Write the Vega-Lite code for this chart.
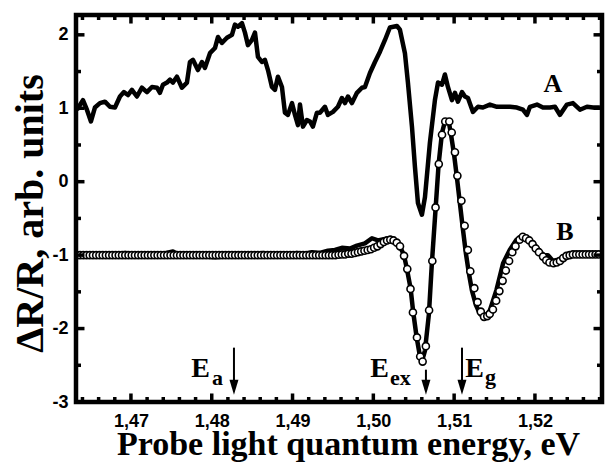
{
  "$schema": "https://vega.github.io/schema/vega-lite/v6.json",
  "width": 526,
  "height": 387,
  "autosize": {"type": "none"},
  "padding": {"left": 76, "top": 15, "right": 4, "bottom": 61},
  "background": "white",
  "config": {
    "view": {"stroke": null},
    "axis": {
      "grid": false,
      "domain": false,
      "ticks": false,
      "labelFont": "Liberation Sans",
      "labelFontWeight": "bold",
      "labelFontSize": 18,
      "labelColor": "black",
      "labelOverlap": false,
      "labelFlush": false,
      "titleFont": "Liberation Serif",
      "titleFontWeight": "bold",
      "titleColor": "black"
    }
  },
  "datasets": {
    "lineA": [
      {"E": 1.46332, "y": 0.98}, {"E": 1.46406, "y": 1.11}, {"E": 1.46455, "y": 0.98}, {"E": 1.46505, "y": 0.82},
      {"E": 1.46554, "y": 1.01}, {"E": 1.46616, "y": 1.07}, {"E": 1.46678, "y": 1.09}, {"E": 1.4674, "y": 1.02},
      {"E": 1.46802, "y": 1.01}, {"E": 1.46864, "y": 1.16}, {"E": 1.46913, "y": 1.22}, {"E": 1.46963, "y": 1.18},
      {"E": 1.47012, "y": 1.25}, {"E": 1.47074, "y": 1.16}, {"E": 1.47136, "y": 1.28}, {"E": 1.47198, "y": 1.22},
      {"E": 1.4726, "y": 1.29}, {"E": 1.47322, "y": 1.28}, {"E": 1.47359, "y": 1.21}, {"E": 1.47396, "y": 1.32},
      {"E": 1.47446, "y": 1.35}, {"E": 1.47483, "y": 1.39}, {"E": 1.4752, "y": 1.35}, {"E": 1.47569, "y": 1.43},
      {"E": 1.47631, "y": 1.28}, {"E": 1.47693, "y": 1.35}, {"E": 1.4773, "y": 1.63}, {"E": 1.47767, "y": 1.66},
      {"E": 1.47829, "y": 1.52}, {"E": 1.47879, "y": 1.63}, {"E": 1.47916, "y": 1.55}, {"E": 1.47978, "y": 1.75},
      {"E": 1.4804, "y": 1.82}, {"E": 1.48077, "y": 1.97}, {"E": 1.48126, "y": 1.89}, {"E": 1.48188, "y": 1.96},
      {"E": 1.4825, "y": 2.0}, {"E": 1.48287, "y": 2.14}, {"E": 1.48324, "y": 2.11}, {"E": 1.48374, "y": 2.16},
      {"E": 1.48411, "y": 2.03}, {"E": 1.48448, "y": 1.86}, {"E": 1.48498, "y": 1.93}, {"E": 1.48535, "y": 2.03},
      {"E": 1.48572, "y": 1.7}, {"E": 1.48621, "y": 1.63}, {"E": 1.48658, "y": 1.66}, {"E": 1.48696, "y": 1.52},
      {"E": 1.48745, "y": 1.29}, {"E": 1.48782, "y": 1.25}, {"E": 1.48819, "y": 1.43}, {"E": 1.48869, "y": 1.29},
      {"E": 1.48906, "y": 0.94}, {"E": 1.48943, "y": 0.91}, {"E": 1.48993, "y": 1.07}, {"E": 1.4903, "y": 0.91},
      {"E": 1.49067, "y": 0.77}, {"E": 1.49092, "y": 1.05}, {"E": 1.49129, "y": 0.75}, {"E": 1.49178, "y": 0.84},
      {"E": 1.49215, "y": 0.82}, {"E": 1.49252, "y": 0.75}, {"E": 1.49302, "y": 0.94}, {"E": 1.49339, "y": 0.94},
      {"E": 1.49401, "y": 1.02}, {"E": 1.49438, "y": 0.91}, {"E": 1.495, "y": 0.95}, {"E": 1.49562, "y": 1.02},
      {"E": 1.49611, "y": 1.14}, {"E": 1.49649, "y": 1.07}, {"E": 1.49686, "y": 1.16}, {"E": 1.49735, "y": 1.07},
      {"E": 1.49797, "y": 1.21}, {"E": 1.49859, "y": 1.28}, {"E": 1.49896, "y": 1.29}, {"E": 1.49958, "y": 1.48},
      {"E": 1.5002, "y": 1.63}, {"E": 1.50082, "y": 1.77}, {"E": 1.50144, "y": 1.93}, {"E": 1.50205, "y": 2.1},
      {"E": 1.50292, "y": 2.12}, {"E": 1.50329, "y": 2.07}, {"E": 1.50391, "y": 1.75}, {"E": 1.50428, "y": 1.35},
      {"E": 1.50478, "y": 0.75}, {"E": 1.50515, "y": 0.2}, {"E": 1.50552, "y": -0.29}, {"E": 1.50601, "y": -0.45},
      {"E": 1.50639, "y": -0.21}, {"E": 1.507, "y": 0.53}, {"E": 1.50762, "y": 1.11}, {"E": 1.508, "y": 1.35},
      {"E": 1.50849, "y": 1.32}, {"E": 1.50886, "y": 1.46}, {"E": 1.50923, "y": 1.29}, {"E": 1.50973, "y": 1.11},
      {"E": 1.5101, "y": 1.21}, {"E": 1.51047, "y": 1.09}, {"E": 1.51097, "y": 1.22}, {"E": 1.51134, "y": 1.16},
      {"E": 1.51171, "y": 1.14}, {"E": 1.51233, "y": 0.95}, {"E": 1.51295, "y": 1.02}, {"E": 1.51356, "y": 1.01},
      {"E": 1.51443, "y": 1.05}, {"E": 1.5153, "y": 1.02}, {"E": 1.51604, "y": 1.02}, {"E": 1.51691, "y": 1.02},
      {"E": 1.51777, "y": 1.01}, {"E": 1.51851, "y": 0.98}, {"E": 1.51901, "y": 0.91}, {"E": 1.51938, "y": 1.02},
      {"E": 1.52025, "y": 1.05}, {"E": 1.52099, "y": 1.01}, {"E": 1.52186, "y": 1.01}, {"E": 1.52248, "y": 1.02},
      {"E": 1.52309, "y": 0.91}, {"E": 1.52396, "y": 1.05}, {"E": 1.5247, "y": 1.07}, {"E": 1.52557, "y": 0.98},
      {"E": 1.52644, "y": 1.02}, {"E": 1.52718, "y": 1.01}, {"E": 1.52804, "y": 1.01}
    ],
    "lineB": [
      {"E": 1.46332, "y": -1.0}, {"E": 1.46493, "y": -1.0}, {"E": 1.46616, "y": -0.99}, {"E": 1.4674, "y": -1.0},
      {"E": 1.46827, "y": -0.98}, {"E": 1.46926, "y": -0.97}, {"E": 1.4705, "y": -0.98}, {"E": 1.47173, "y": -1.0},
      {"E": 1.47359, "y": -0.99}, {"E": 1.4752, "y": -0.95}, {"E": 1.47606, "y": -1.0}, {"E": 1.47792, "y": -1.0},
      {"E": 1.47916, "y": -1.02}, {"E": 1.4804, "y": -1.03}, {"E": 1.48163, "y": -1.02}, {"E": 1.48349, "y": -1.0},
      {"E": 1.48535, "y": -1.0}, {"E": 1.48634, "y": -0.97}, {"E": 1.4872, "y": -1.0}, {"E": 1.48906, "y": -1.0},
      {"E": 1.49054, "y": -0.97}, {"E": 1.49153, "y": -0.98}, {"E": 1.4924, "y": -0.96}, {"E": 1.49339, "y": -0.97},
      {"E": 1.49438, "y": -0.94}, {"E": 1.49525, "y": -0.93}, {"E": 1.49611, "y": -0.9}, {"E": 1.4971, "y": -0.91},
      {"E": 1.49797, "y": -0.87}, {"E": 1.49896, "y": -0.84}, {"E": 1.49983, "y": -0.77}, {"E": 1.50057, "y": -0.8},
      {"E": 1.50144, "y": -0.78}, {"E": 1.5023, "y": -0.78}, {"E": 1.50292, "y": -0.82}, {"E": 1.50329, "y": -0.88},
      {"E": 1.50379, "y": -1.0}, {"E": 1.50416, "y": -1.19}, {"E": 1.50462, "y": -1.46}, {"E": 1.50494, "y": -1.78},
      {"E": 1.50536, "y": -2.12}, {"E": 1.50577, "y": -2.38}, {"E": 1.50601, "y": -2.45}, {"E": 1.50639, "y": -2.3},
      {"E": 1.50688, "y": -1.8}, {"E": 1.50725, "y": -1.1}, {"E": 1.50771, "y": -0.36}, {"E": 1.50808, "y": 0.24},
      {"E": 1.50849, "y": 0.66}, {"E": 1.50886, "y": 0.82}, {"E": 1.50936, "y": 0.8}, {"E": 1.5096, "y": 0.65},
      {"E": 1.50998, "y": 0.38}, {"E": 1.51035, "y": 0.05}, {"E": 1.51072, "y": -0.3}, {"E": 1.51109, "y": -0.65},
      {"E": 1.51146, "y": -0.98}, {"E": 1.51183, "y": -1.25}, {"E": 1.5122, "y": -1.48}, {"E": 1.5127, "y": -1.68},
      {"E": 1.51319, "y": -1.8}, {"E": 1.51369, "y": -1.85}, {"E": 1.51418, "y": -1.8}, {"E": 1.51443, "y": -1.75},
      {"E": 1.51525, "y": -1.47}, {"E": 1.51606, "y": -1.11}, {"E": 1.51688, "y": -0.93}, {"E": 1.51771, "y": -0.79},
      {"E": 1.51833, "y": -0.74}, {"E": 1.51889, "y": -0.77}, {"E": 1.51938, "y": -0.81}, {"E": 1.52012, "y": -0.88},
      {"E": 1.52062, "y": -0.95}, {"E": 1.52111, "y": -1.0}, {"E": 1.52161, "y": -1.0}, {"E": 1.52223, "y": -1.08},
      {"E": 1.52285, "y": -1.06}, {"E": 1.52371, "y": -1.02}, {"E": 1.52433, "y": -0.99}, {"E": 1.52557, "y": -0.98},
      {"E": 1.52681, "y": -0.99}, {"E": 1.52829, "y": -0.99}
    ],
    "fit": [
      {"E": 1.4633, "y": -1.0}, {"E": 1.4637, "y": -1.0}, {"E": 1.4641, "y": -1.0}, {"E": 1.4645, "y": -1.0},
      {"E": 1.4649, "y": -1.0}, {"E": 1.4653, "y": -1.0}, {"E": 1.4657, "y": -1.0}, {"E": 1.4661, "y": -1.0},
      {"E": 1.4665, "y": -1.0}, {"E": 1.4669, "y": -1.0}, {"E": 1.4673, "y": -1.0}, {"E": 1.4677, "y": -1.0},
      {"E": 1.4681, "y": -1.0}, {"E": 1.4685, "y": -1.0}, {"E": 1.4689, "y": -1.0}, {"E": 1.4693, "y": -1.0},
      {"E": 1.4697, "y": -1.0}, {"E": 1.4701, "y": -1.0}, {"E": 1.4705, "y": -1.0}, {"E": 1.4709, "y": -1.0},
      {"E": 1.4713, "y": -1.0}, {"E": 1.4717, "y": -1.0}, {"E": 1.4721, "y": -1.0}, {"E": 1.4725, "y": -1.0},
      {"E": 1.4729, "y": -1.0}, {"E": 1.4733, "y": -1.0}, {"E": 1.4737, "y": -1.0}, {"E": 1.4741, "y": -1.0},
      {"E": 1.4745, "y": -1.0}, {"E": 1.4749, "y": -1.0}, {"E": 1.4753, "y": -1.0}, {"E": 1.4757, "y": -1.0},
      {"E": 1.4761, "y": -1.0}, {"E": 1.4765, "y": -1.0}, {"E": 1.4769, "y": -1.0}, {"E": 1.4773, "y": -1.0},
      {"E": 1.4777, "y": -1.0}, {"E": 1.4781, "y": -1.0}, {"E": 1.4785, "y": -1.0}, {"E": 1.4789, "y": -1.0},
      {"E": 1.4793, "y": -1.0}, {"E": 1.4797, "y": -1.0}, {"E": 1.4801, "y": -1.0}, {"E": 1.4805, "y": -1.0},
      {"E": 1.4809, "y": -1.0}, {"E": 1.4813, "y": -1.0}, {"E": 1.4817, "y": -1.0}, {"E": 1.4821, "y": -1.0},
      {"E": 1.4825, "y": -1.0}, {"E": 1.4829, "y": -1.0}, {"E": 1.4833, "y": -1.0}, {"E": 1.4837, "y": -1.0},
      {"E": 1.4841, "y": -1.0}, {"E": 1.4845, "y": -1.0}, {"E": 1.4849, "y": -1.0}, {"E": 1.4853, "y": -1.0},
      {"E": 1.4857, "y": -1.0}, {"E": 1.4861, "y": -1.0}, {"E": 1.4865, "y": -1.0}, {"E": 1.4869, "y": -1.0},
      {"E": 1.4873, "y": -1.0}, {"E": 1.4877, "y": -1.0}, {"E": 1.4881, "y": -1.0}, {"E": 1.4885, "y": -1.0},
      {"E": 1.4889, "y": -1.0}, {"E": 1.4893, "y": -1.0}, {"E": 1.4897, "y": -1.0}, {"E": 1.4901, "y": -1.0},
      {"E": 1.4905, "y": -1.0}, {"E": 1.4909, "y": -1.0}, {"E": 1.4913, "y": -1.0}, {"E": 1.4917, "y": -1.0},
      {"E": 1.4921, "y": -1.0}, {"E": 1.4925, "y": -1.0}, {"E": 1.4929, "y": -1.0}, {"E": 1.4933, "y": -1.0},
      {"E": 1.4937, "y": -1.0}, {"E": 1.4941, "y": -1.0}, {"E": 1.4945, "y": -1.0}, {"E": 1.4949, "y": -1.0},
      {"E": 1.4953, "y": -1.0}, {"E": 1.4957, "y": -0.995}, {"E": 1.4961, "y": -0.99}, {"E": 1.4965, "y": -0.99},
      {"E": 1.4969, "y": -0.98}, {"E": 1.4973, "y": -0.98}, {"E": 1.4977, "y": -0.97}, {"E": 1.4981, "y": -0.96},
      {"E": 1.4985, "y": -0.95}, {"E": 1.4989, "y": -0.94}, {"E": 1.4993, "y": -0.93}, {"E": 1.4997, "y": -0.92},
      {"E": 1.5001, "y": -0.9}, {"E": 1.5005, "y": -0.88}, {"E": 1.5009, "y": -0.85}, {"E": 1.5013, "y": -0.82},
      {"E": 1.5017, "y": -0.8}, {"E": 1.5021, "y": -0.79}, {"E": 1.5025, "y": -0.8}, {"E": 1.5029, "y": -0.83},
      {"E": 1.5033, "y": -0.88}, {"E": 1.5038, "y": -1.01}, {"E": 1.5042, "y": -1.19}, {"E": 1.5046, "y": -1.46},
      {"E": 1.5049, "y": -1.78}, {"E": 1.5054, "y": -2.12}, {"E": 1.5058, "y": -2.38}, {"E": 1.5061, "y": -2.45},
      {"E": 1.5065, "y": -2.24}, {"E": 1.5069, "y": -1.75}, {"E": 1.5073, "y": -1.08}, {"E": 1.5077, "y": -0.35},
      {"E": 1.5081, "y": 0.24}, {"E": 1.5085, "y": 0.64}, {"E": 1.5089, "y": 0.82}, {"E": 1.5094, "y": 0.82},
      {"E": 1.5097, "y": 0.67}, {"E": 1.5101, "y": 0.4}, {"E": 1.5104, "y": 0.08}, {"E": 1.5109, "y": -0.26},
      {"E": 1.5113, "y": -0.6}, {"E": 1.5117, "y": -0.93}, {"E": 1.512, "y": -1.22}, {"E": 1.5125, "y": -1.45},
      {"E": 1.5129, "y": -1.64}, {"E": 1.5133, "y": -1.77}, {"E": 1.5137, "y": -1.84}, {"E": 1.5141, "y": -1.83},
      {"E": 1.5144, "y": -1.8}, {"E": 1.5148, "y": -1.74}, {"E": 1.5152, "y": -1.62}, {"E": 1.5156, "y": -1.49},
      {"E": 1.516, "y": -1.35}, {"E": 1.5164, "y": -1.21}, {"E": 1.5168, "y": -1.08}, {"E": 1.5172, "y": -0.96},
      {"E": 1.5176, "y": -0.88}, {"E": 1.5181, "y": -0.79}, {"E": 1.5185, "y": -0.75}, {"E": 1.5189, "y": -0.77},
      {"E": 1.5193, "y": -0.8}, {"E": 1.5197, "y": -0.85}, {"E": 1.5201, "y": -0.91}, {"E": 1.5205, "y": -0.96},
      {"E": 1.521, "y": -1.02}, {"E": 1.5214, "y": -1.07}, {"E": 1.5218, "y": -1.1}, {"E": 1.5223, "y": -1.11},
      {"E": 1.5227, "y": -1.1}, {"E": 1.5231, "y": -1.08}, {"E": 1.5235, "y": -1.04}, {"E": 1.5239, "y": -1.01},
      {"E": 1.5243, "y": -1.0}, {"E": 1.5247, "y": -0.99}, {"E": 1.5251, "y": -0.99}, {"E": 1.5255, "y": -0.99},
      {"E": 1.5259, "y": -0.99}, {"E": 1.5263, "y": -0.99}, {"E": 1.5267, "y": -0.99}, {"E": 1.5271, "y": -0.99},
      {"E": 1.5275, "y": -0.99}, {"E": 1.5279, "y": -0.99}
    ],
    "frame": [
      {"k": 0, "E": 1.4632, "y": -3}, {"k": 1, "E": 1.5283, "y": -3}, {"k": 2, "E": 1.5283, "y": 2.27},
      {"k": 3, "E": 1.4632, "y": 2.27}, {"k": 4, "E": 1.4632, "y": -3}
    ],
    "tickPts": [
      {"id": "b01", "E": 1.464, "y": -3}, {"id": "b01", "E": 1.464, "y": -2.932},
      {"id": "b02", "E": 1.466, "y": -3}, {"id": "b02", "E": 1.466, "y": -2.932},
      {"id": "b03", "E": 1.468, "y": -3}, {"id": "b03", "E": 1.468, "y": -2.932},
      {"id": "b04", "E": 1.47, "y": -3}, {"id": "b04", "E": 1.47, "y": -2.884},
      {"id": "b05", "E": 1.472, "y": -3}, {"id": "b05", "E": 1.472, "y": -2.932},
      {"id": "b06", "E": 1.474, "y": -3}, {"id": "b06", "E": 1.474, "y": -2.932},
      {"id": "b07", "E": 1.476, "y": -3}, {"id": "b07", "E": 1.476, "y": -2.932},
      {"id": "b08", "E": 1.478, "y": -3}, {"id": "b08", "E": 1.478, "y": -2.932},
      {"id": "b09", "E": 1.48, "y": -3}, {"id": "b09", "E": 1.48, "y": -2.884},
      {"id": "b10", "E": 1.482, "y": -3}, {"id": "b10", "E": 1.482, "y": -2.932},
      {"id": "b11", "E": 1.484, "y": -3}, {"id": "b11", "E": 1.484, "y": -2.932},
      {"id": "b12", "E": 1.486, "y": -3}, {"id": "b12", "E": 1.486, "y": -2.932},
      {"id": "b13", "E": 1.488, "y": -3}, {"id": "b13", "E": 1.488, "y": -2.932},
      {"id": "b14", "E": 1.49, "y": -3}, {"id": "b14", "E": 1.49, "y": -2.884},
      {"id": "b15", "E": 1.492, "y": -3}, {"id": "b15", "E": 1.492, "y": -2.932},
      {"id": "b16", "E": 1.494, "y": -3}, {"id": "b16", "E": 1.494, "y": -2.932},
      {"id": "b17", "E": 1.496, "y": -3}, {"id": "b17", "E": 1.496, "y": -2.932},
      {"id": "b18", "E": 1.498, "y": -3}, {"id": "b18", "E": 1.498, "y": -2.932},
      {"id": "b19", "E": 1.5, "y": -3}, {"id": "b19", "E": 1.5, "y": -2.884},
      {"id": "b20", "E": 1.502, "y": -3}, {"id": "b20", "E": 1.502, "y": -2.932},
      {"id": "b21", "E": 1.504, "y": -3}, {"id": "b21", "E": 1.504, "y": -2.932},
      {"id": "b22", "E": 1.506, "y": -3}, {"id": "b22", "E": 1.506, "y": -2.932},
      {"id": "b23", "E": 1.508, "y": -3}, {"id": "b23", "E": 1.508, "y": -2.932},
      {"id": "b24", "E": 1.51, "y": -3}, {"id": "b24", "E": 1.51, "y": -2.884},
      {"id": "b25", "E": 1.512, "y": -3}, {"id": "b25", "E": 1.512, "y": -2.932},
      {"id": "b26", "E": 1.514, "y": -3}, {"id": "b26", "E": 1.514, "y": -2.932},
      {"id": "b27", "E": 1.516, "y": -3}, {"id": "b27", "E": 1.516, "y": -2.932},
      {"id": "b28", "E": 1.518, "y": -3}, {"id": "b28", "E": 1.518, "y": -2.932},
      {"id": "b29", "E": 1.52, "y": -3}, {"id": "b29", "E": 1.52, "y": -2.884},
      {"id": "b30", "E": 1.522, "y": -3}, {"id": "b30", "E": 1.522, "y": -2.932},
      {"id": "b31", "E": 1.524, "y": -3}, {"id": "b31", "E": 1.524, "y": -2.932},
      {"id": "b32", "E": 1.526, "y": -3}, {"id": "b32", "E": 1.526, "y": -2.932},
      {"id": "b33", "E": 1.528, "y": -3}, {"id": "b33", "E": 1.528, "y": -2.932},
      {"id": "t01", "E": 1.464, "y": 2.27}, {"id": "t01", "E": 1.464, "y": 2.202},
      {"id": "t02", "E": 1.466, "y": 2.27}, {"id": "t02", "E": 1.466, "y": 2.202},
      {"id": "t03", "E": 1.468, "y": 2.27}, {"id": "t03", "E": 1.468, "y": 2.202},
      {"id": "t04", "E": 1.47, "y": 2.27}, {"id": "t04", "E": 1.47, "y": 2.154},
      {"id": "t05", "E": 1.472, "y": 2.27}, {"id": "t05", "E": 1.472, "y": 2.202},
      {"id": "t06", "E": 1.474, "y": 2.27}, {"id": "t06", "E": 1.474, "y": 2.202},
      {"id": "t07", "E": 1.476, "y": 2.27}, {"id": "t07", "E": 1.476, "y": 2.202},
      {"id": "t08", "E": 1.478, "y": 2.27}, {"id": "t08", "E": 1.478, "y": 2.202},
      {"id": "t09", "E": 1.48, "y": 2.27}, {"id": "t09", "E": 1.48, "y": 2.154},
      {"id": "t10", "E": 1.482, "y": 2.27}, {"id": "t10", "E": 1.482, "y": 2.202},
      {"id": "t11", "E": 1.484, "y": 2.27}, {"id": "t11", "E": 1.484, "y": 2.202},
      {"id": "t12", "E": 1.486, "y": 2.27}, {"id": "t12", "E": 1.486, "y": 2.202},
      {"id": "t13", "E": 1.488, "y": 2.27}, {"id": "t13", "E": 1.488, "y": 2.202},
      {"id": "t14", "E": 1.49, "y": 2.27}, {"id": "t14", "E": 1.49, "y": 2.154},
      {"id": "t15", "E": 1.492, "y": 2.27}, {"id": "t15", "E": 1.492, "y": 2.202},
      {"id": "t16", "E": 1.494, "y": 2.27}, {"id": "t16", "E": 1.494, "y": 2.202},
      {"id": "t17", "E": 1.496, "y": 2.27}, {"id": "t17", "E": 1.496, "y": 2.202},
      {"id": "t18", "E": 1.498, "y": 2.27}, {"id": "t18", "E": 1.498, "y": 2.202},
      {"id": "t19", "E": 1.5, "y": 2.27}, {"id": "t19", "E": 1.5, "y": 2.154},
      {"id": "t20", "E": 1.502, "y": 2.27}, {"id": "t20", "E": 1.502, "y": 2.202},
      {"id": "t21", "E": 1.504, "y": 2.27}, {"id": "t21", "E": 1.504, "y": 2.202},
      {"id": "t22", "E": 1.506, "y": 2.27}, {"id": "t22", "E": 1.506, "y": 2.202},
      {"id": "t23", "E": 1.508, "y": 2.27}, {"id": "t23", "E": 1.508, "y": 2.202},
      {"id": "t24", "E": 1.51, "y": 2.27}, {"id": "t24", "E": 1.51, "y": 2.154},
      {"id": "t25", "E": 1.512, "y": 2.27}, {"id": "t25", "E": 1.512, "y": 2.202},
      {"id": "t26", "E": 1.514, "y": 2.27}, {"id": "t26", "E": 1.514, "y": 2.202},
      {"id": "t27", "E": 1.516, "y": 2.27}, {"id": "t27", "E": 1.516, "y": 2.202},
      {"id": "t28", "E": 1.518, "y": 2.27}, {"id": "t28", "E": 1.518, "y": 2.202},
      {"id": "t29", "E": 1.52, "y": 2.27}, {"id": "t29", "E": 1.52, "y": 2.154},
      {"id": "t30", "E": 1.522, "y": 2.27}, {"id": "t30", "E": 1.522, "y": 2.202},
      {"id": "t31", "E": 1.524, "y": 2.27}, {"id": "t31", "E": 1.524, "y": 2.202},
      {"id": "t32", "E": 1.526, "y": 2.27}, {"id": "t32", "E": 1.526, "y": 2.202},
      {"id": "t33", "E": 1.528, "y": 2.27}, {"id": "t33", "E": 1.528, "y": 2.202},
      {"id": "l01", "E": 1.4632, "y": -2.5}, {"id": "l01", "E": 1.46382, "y": -2.5},
      {"id": "l02", "E": 1.4632, "y": -2}, {"id": "l02", "E": 1.46425, "y": -2},
      {"id": "l03", "E": 1.4632, "y": -1.5}, {"id": "l03", "E": 1.46382, "y": -1.5},
      {"id": "l04", "E": 1.4632, "y": -1}, {"id": "l04", "E": 1.46425, "y": -1},
      {"id": "l05", "E": 1.4632, "y": -0.5}, {"id": "l05", "E": 1.46382, "y": -0.5},
      {"id": "l06", "E": 1.4632, "y": 0}, {"id": "l06", "E": 1.46425, "y": 0},
      {"id": "l07", "E": 1.4632, "y": 0.5}, {"id": "l07", "E": 1.46382, "y": 0.5},
      {"id": "l08", "E": 1.4632, "y": 1}, {"id": "l08", "E": 1.46425, "y": 1},
      {"id": "l09", "E": 1.4632, "y": 1.5}, {"id": "l09", "E": 1.46382, "y": 1.5},
      {"id": "l10", "E": 1.4632, "y": 2}, {"id": "l10", "E": 1.46425, "y": 2},
      {"id": "r01", "E": 1.52768, "y": -2.5}, {"id": "r01", "E": 1.5283, "y": -2.5},
      {"id": "r02", "E": 1.52725, "y": -2}, {"id": "r02", "E": 1.5283, "y": -2},
      {"id": "r03", "E": 1.52768, "y": -1.5}, {"id": "r03", "E": 1.5283, "y": -1.5},
      {"id": "r04", "E": 1.52725, "y": -1}, {"id": "r04", "E": 1.5283, "y": -1},
      {"id": "r05", "E": 1.52768, "y": -0.5}, {"id": "r05", "E": 1.5283, "y": -0.5},
      {"id": "r06", "E": 1.52725, "y": 0}, {"id": "r06", "E": 1.5283, "y": 0},
      {"id": "r07", "E": 1.52768, "y": 0.5}, {"id": "r07", "E": 1.5283, "y": 0.5},
      {"id": "r08", "E": 1.52725, "y": 1}, {"id": "r08", "E": 1.5283, "y": 1},
      {"id": "r09", "E": 1.52768, "y": 1.5}, {"id": "r09", "E": 1.5283, "y": 1.5},
      {"id": "r10", "E": 1.52725, "y": 2}, {"id": "r10", "E": 1.5283, "y": 2}
    ],
    "arrows": [
      {"E": 1.48275, "y1": -2.26, "y2": -2.8},
      {"E": 1.50651, "y1": -2.56, "y2": -2.8},
      {"E": 1.51097, "y1": -2.26, "y2": -2.8}
    ],
    "mainText": [
      {"E": 1.47978, "y": -2.659, "t": "E"},
      {"E": 1.50193, "y": -2.659, "t": "E"},
      {"E": 1.51369, "y": -2.659, "t": "E"}
    ],
    "subText": [
      {"E": 1.48002, "y": -2.768, "t": "a"},
      {"E": 1.50205, "y": -2.768, "t": "ex"},
      {"E": 1.51381, "y": -2.755, "t": "g"}
    ],
    "curveLabels": [
      {"E": 1.52223, "y": 1.223, "t": "A"},
      {"E": 1.52371, "y": -0.793, "t": "B"}
    ]
  },
  "layer": [
    {
      "data": {"name": "lineA"},
      "mark": {"type": "line", "color": "black", "strokeWidth": 4.5, "strokeJoin": "round", "clip": true},
      "encoding": {
        "x": {
          "field": "E", "type": "quantitative",
          "scale": {"domain": [1.4632, 1.5283], "nice": false, "zero": false},
          "axis": {
            "orient": "bottom",
            "domain": false,
            "ticks": false,
            "values": [1.47, 1.48, 1.49, 1.5, 1.51, 1.52],
            "labelExpr": "replace(format(datum.value, '.2f'), '.', ',')",
            "labelPadding": 10,
            "title": "Probe light quantum energy, eV",
            "titleFontSize": 34,
            "titleX": 272,
            "titleY": 52,
            "titleBaseline": "alphabetic",
            "titleAlign": "center"
          }
        },
        "y": {
          "field": "y", "type": "quantitative",
          "scale": {"domain": [-3, 2.27], "nice": false, "zero": false},
          "axis": {
            "orient": "left",
            "domain": false,
            "ticks": false,
            "values": [-3, -2, -1, 0, 1, 2],
            "labelExpr": "'' + datum.value",
            "labelPadding": 8,
            "title": "ΔR/R, arb. units",
            "titleFontSize": 40,
            "titleAngle": -90,
            "titleX": -34,
            "titleY": 198,
            "titleBaseline": "alphabetic",
            "titleAlign": "center"
          }
        }
      }
    },
    {
      "data": {"name": "lineB"},
      "mark": {"type": "line", "color": "black", "strokeWidth": 4.5, "strokeJoin": "round", "clip": true},
      "encoding": {
        "x": {"field": "E", "type": "quantitative"},
        "y": {"field": "y", "type": "quantitative"}
      }
    },
    {
      "data": {"name": "fit"},
      "mark": {"type": "point", "shape": "circle", "filled": true, "fill": "white", "stroke": "black", "strokeWidth": 1.6, "size": 50, "opacity": 1, "clip": true},
      "encoding": {
        "x": {"field": "E", "type": "quantitative"},
        "y": {"field": "y", "type": "quantitative"}
      }
    },
    {
      "data": {"name": "tickPts"},
      "mark": {"type": "line", "color": "black", "strokeWidth": 3.5},
      "encoding": {
        "x": {"field": "E", "type": "quantitative"},
        "y": {"field": "y", "type": "quantitative"},
        "detail": {"field": "id", "type": "nominal"}
      }
    },
    {
      "data": {"name": "frame"},
      "mark": {"type": "line", "color": "black", "strokeWidth": 4.5, "strokeJoin": "miter", "strokeCap": "square"},
      "encoding": {
        "x": {"field": "E", "type": "quantitative"},
        "y": {"field": "y", "type": "quantitative"},
        "order": {"field": "k", "type": "quantitative"}
      }
    },
    {
      "data": {"name": "arrows"},
      "mark": {"type": "rule", "color": "black", "strokeWidth": 2},
      "encoding": {
        "x": {"field": "E", "type": "quantitative"},
        "y": {"field": "y1", "type": "quantitative"},
        "y2": {"field": "y2"}
      }
    },
    {
      "data": {"name": "arrows"},
      "mark": {"type": "point", "shape": "M-1,-1.67L1,-1.67L0,1.67Z", "filled": true, "color": "black", "size": 81, "opacity": 1},
      "encoding": {
        "x": {"field": "E", "type": "quantitative"},
        "y": {"field": "y2", "type": "quantitative"}
      }
    },
    {
      "data": {"name": "mainText"},
      "mark": {"type": "text", "font": "Liberation Serif", "fontWeight": "bold", "fontSize": 28, "align": "right", "baseline": "alphabetic", "color": "black"},
      "encoding": {
        "x": {"field": "E", "type": "quantitative"},
        "y": {"field": "y", "type": "quantitative"},
        "text": {"field": "t"}
      }
    },
    {
      "data": {"name": "subText"},
      "mark": {"type": "text", "font": "Liberation Serif", "fontWeight": "bold", "fontSize": 22, "align": "left", "baseline": "alphabetic", "color": "black"},
      "encoding": {
        "x": {"field": "E", "type": "quantitative"},
        "y": {"field": "y", "type": "quantitative"},
        "text": {"field": "t"}
      }
    },
    {
      "data": {"name": "curveLabels"},
      "mark": {"type": "text", "font": "Liberation Serif", "fontWeight": "bold", "fontSize": 26, "align": "center", "baseline": "alphabetic", "color": "black"},
      "encoding": {
        "x": {"field": "E", "type": "quantitative"},
        "y": {"field": "y", "type": "quantitative"},
        "text": {"field": "t"}
      }
    }
  ]
}
